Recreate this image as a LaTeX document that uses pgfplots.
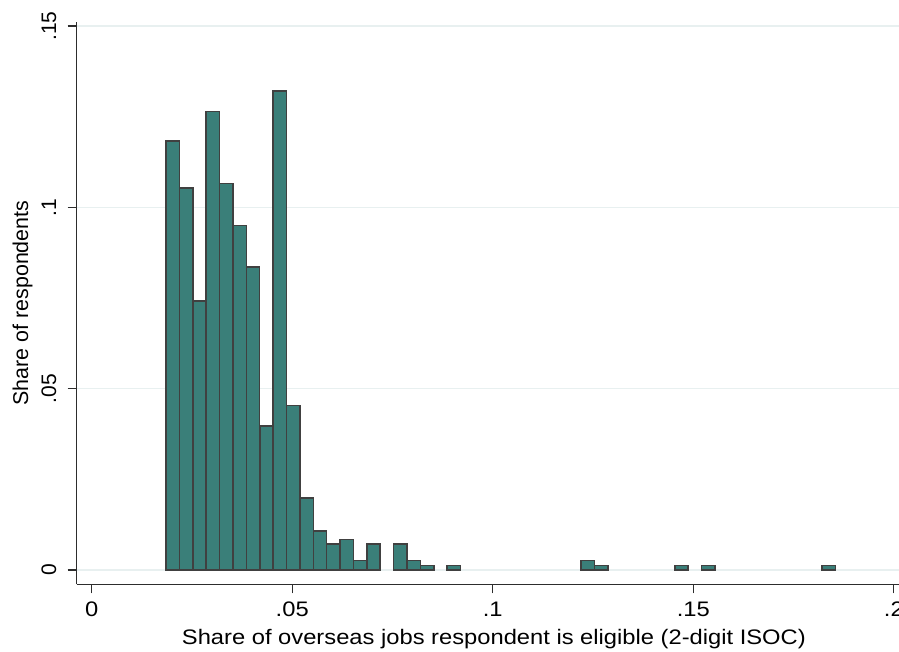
\documentclass[border=0pt]{standalone}
\usepackage{pgfplots}
\pgfplotsset{compat=1.18}
\usepackage{fontspec}
\setmainfont{Liberation Sans}[FakeStretch=1.13]
\newfontfamily\yfont{Liberation Sans}

\definecolor{barfill}{RGB}{58,127,121}
\definecolor{baredge}{RGB}{64,64,64}
\definecolor{gridc}{RGB}{232,240,240}
\definecolor{axc}{RGB}{45,45,45}

\begin{document}
\begin{tikzpicture}
\begin{axis}[
  scale only axis, width=417.2pt, height=281.3pt,
  xmin=-0.00374, xmax=0.2043, ymin=-0.00394, ymax=0.1512,
  axis x line*=bottom, axis y line*=left,
  axis line style={draw=axc, line width=0.6pt, -},
  tick align=outside, major tick length=4.5pt,
  tick style={draw=axc, line width=0.6pt},
  xtick={0,0.05,0.1,0.15,0.2}, xticklabels={0,.05,.1,.15,.2},
  ytick={0,0.05,0.1,0.15}, yticklabels={0,.05,.1,.15},
  minor tick num=0,
  ymajorgrids, grid style={draw=gridc, line width=0.6pt},
  xticklabel style={anchor=base, font=\fontsize{10.5}{12}\selectfont}, xticklabel shift=11.7pt,
  yticklabel style={rotate=90, anchor=base, font=\yfont\fontsize{10.5}{12}\selectfont}, yticklabel shift=5.8pt,
  xlabel={Share of overseas jobs respondent is eligible (2-digit ISOC)},
  ylabel={Share of respondents},
  xlabel style={at={(axis description cs:0.5,-0.10665)}, anchor=base, font=\fontsize{10.5}{12}\selectfont},
  ylabel style={at={(axis description cs:-0.05837,0.5)}, anchor=base, rotate=0, font=\yfont\fontsize{10.7}{12}\selectfont},
  clip=false,
]
\coordinate (sw) at (rel axis cs:0,0);
\addplot[ybar, bar width=0.003338, bar shift=0pt, fill=barfill, draw=baredge, line width=0.75pt]
coordinates {
(0.02020,0.1183) (0.02354,0.1054) (0.02688,0.0742) (0.03021,0.1264)
(0.03355,0.1066) (0.03689,0.0950) (0.04023,0.0835) (0.04357,0.0397)
(0.04691,0.1321) (0.05024,0.0453) (0.05358,0.0199) (0.05692,0.0107)
(0.06026,0.0072) (0.06360,0.0084) (0.06694,0.0026) (0.07027,0.0072)
(0.07695,0.0072) (0.08029,0.0026) (0.08363,0.0013) (0.09030,0.0013)
(0.12368,0.0026) (0.12702,0.0013) (0.14705,0.0013) (0.15372,0.0013)
(0.18377,0.0013)
};
\end{axis}
\pgfresetboundingbox
\path[use as bounding box] ([shift={(-38.35pt,-33.85pt)}]sw) rectangle ([shift={(411.15pt,292.15pt)}]sw);
\end{tikzpicture}
\end{document}
